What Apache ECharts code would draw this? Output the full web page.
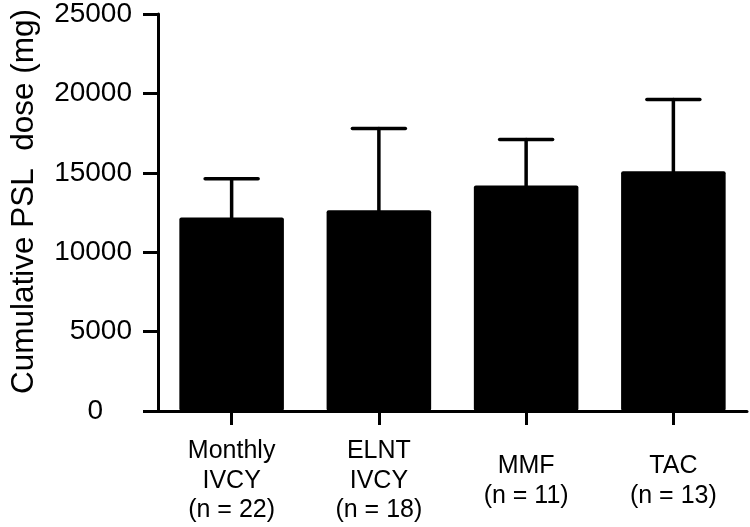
<!DOCTYPE html>
<html>
<head>
<meta charset="utf-8">
<script src="https://cdn.jsdelivr.net/npm/echarts@6/dist/echarts.min.js"></script>
<style>html,body{margin:0;padding:0;background:#fff}#c{width:750px;height:527px}</style>
</head>
<body>
<div id="c"></div>
<script>
const categories = ['Monthly\nIVCY\n(n = 22)', 'ELNT\nIVCY\n(n = 18)', 'MMF\n(n = 11)', 'TAC\n(n = 13)'];
const means = [12180, 12640, 14200, 15090];
const sds = [2450, 5150, 2900, 4530];
const yTicks = [0, 5000, 10000, 15000, 20000, 25000];
const yTitle = 'Cumulative PSL  dose (mg)';

const FONT = '"Liberation Sans", Arial, Helvetica, sans-serif';
const chart = echarts.init(document.getElementById('c'), null, {renderer: 'canvas'});
const errData = means.map((m, i) => [i, m, m + sds[i]]);

chart.setOption({
  animation: false,
  backgroundColor: '#fff',
  grid: {left: 145, right: 3, top: 11, bottom: 116, containLabel: false},
  xAxis: {
    type: 'category',
    data: categories,
    axisLine: {lineStyle: {color: '#000', width: 3}},
    axisTick: {show: true, alignWithLabel: true, length: 14, lineStyle: {color: '#000', width: 3}},
    axisLabel: {color: '#000', fontFamily: FONT, fontSize: 25, lineHeight: 29.5, verticalAlign: 'middle', margin: 70, interval: 0}
  },
  yAxis: {
    type: 'value',
    min: yTicks[0],
    max: yTicks[yTicks.length - 1],
    interval: 5000,
    name: yTitle,
    nameLocation: 'middle',
    nameGap: 118,
    nameTextStyle: {color: '#000', fontFamily: FONT, fontSize: 31.5, padding: [0, 0, 0, 22]},
    splitLine: {show: false},
    axisLine: {show: true, lineStyle: {color: '#000', width: 3}},
    axisTick: {show: true, length: 15, lineStyle: {color: '#000', width: 3}},
    axisLabel: {
      color: '#000', fontFamily: FONT, fontSize: 28, margin: 26,
      formatter: v => v === 0 ? '{z|0}' : String(v),
      rich: {z: {color: '#000', fontFamily: FONT, fontSize: 28, padding: [0, 29, 0, 0]}}
    }
  },
  series: [
    {
      type: 'bar',
      data: means,
      barWidth: '71%',
      itemStyle: {color: '#000', borderRadius: 2}
    },
    {
      type: 'custom',
      data: errData,
      z: 5,
      renderItem: function (params, api) {
        const x = api.value(0);
        const base = api.coord([x, api.value(1)]);
        const top = api.coord([x, api.value(2)]);
        const capHalf = 26.5;
        const style = {stroke: '#000', lineWidth: 3.5, lineCap: 'round'};
        return {
          type: 'group',
          children: [
            {type: 'line', shape: {x1: base[0], y1: base[1], x2: top[0], y2: top[1]}, style: style},
            {type: 'line', shape: {x1: top[0] - capHalf, y1: top[1], x2: top[0] + capHalf, y2: top[1]}, style: style}
          ]
        };
      }
    }
  ]
});
</script>
</body>
</html>
